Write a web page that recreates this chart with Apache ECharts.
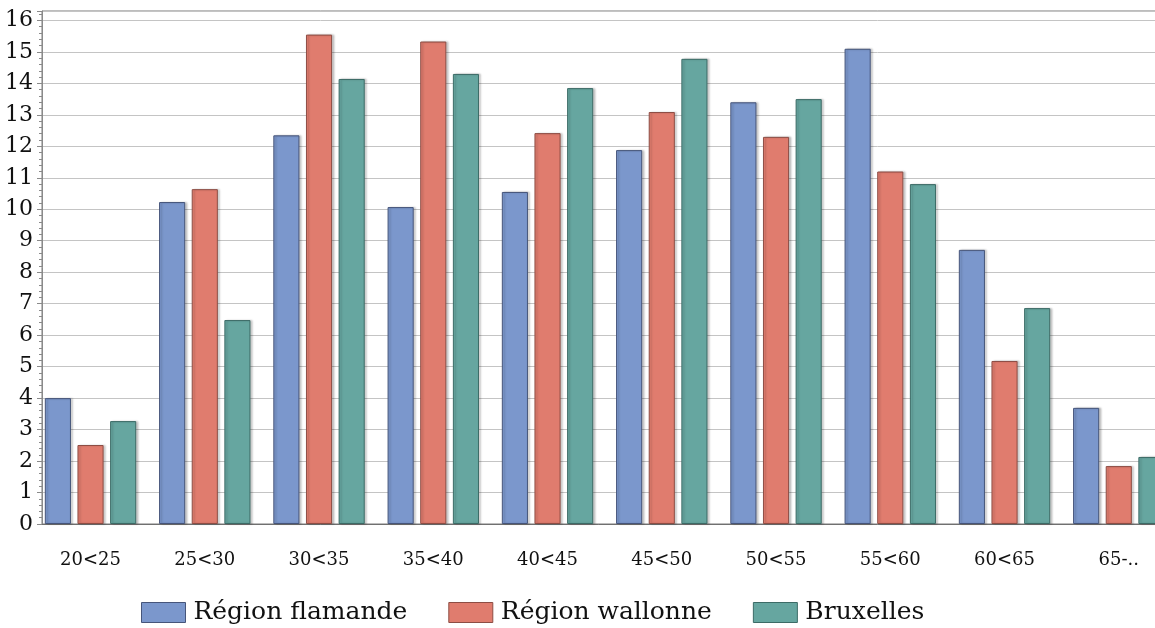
<!DOCTYPE html>
<html>
<head>
<meta charset="utf-8">
<script src="https://cdn.jsdelivr.net/npm/echarts@6/dist/echarts.min.js"></script>
<style>
  html, body { margin: 0; padding: 0; background: #ffffff; }
  #chart { width: 1155px; height: 628px; }
</style>
</head>
<body>
<div id="chart"></div>
<script>
// Age classes and shares (%) per region
const categories = ['20<25', '25<30', '30<35', '35<40', '40<45', '45<50', '50<55', '55<60', '60<65', '65-..'];
const flamande  = [4.0, 10.23, 12.35, 10.07, 10.55, 11.88, 13.40, 15.10, 8.71, 3.69];
const wallonne  = [2.51, 10.64, 15.55, 15.33, 12.42, 13.09, 12.30, 11.20, 5.18, 1.84];
const bruxelles = [3.27, 6.48, 14.14, 14.30, 13.85, 14.78, 13.50, 10.80, 6.86, 2.13];
const seriesNames = ['Région flamande', 'Région wallonne', 'Bruxelles'];

const FONT = 'DejaVu Serif';
const Y_MAX = 16.3;

const chart = echarts.init(document.getElementById('chart'), null, { renderer: 'canvas' });

function barSeries(name, data, color, border) {
  return {
    name: name,
    type: 'bar',
    xAxisIndex: 1,
    yAxisIndex: 1,
    data: data,
    barGap: '25%',
    barCategoryGap: '20%',
    itemStyle: {
      color: color,
      borderColor: border,
      borderWidth: 1,
      shadowColor: 'rgba(0,0,0,0.2)',
      shadowBlur: 2,
      shadowOffsetX: 2,
      shadowOffsetY: 0
    },
    emphasis: { disabled: true }
  };
}

chart.setOption({
  animation: false,
  backgroundColor: '#ffffff',
  grid: [
    // frame, value axis and gridlines (runs past the right edge)
    { left: 42, top: 11, bottom: 104, width: 1200, outerBoundsMode: 'none', containLabel: false,
      show: true, borderColor: '#7a7a7a', borderWidth: 1, backgroundColor: 'transparent' },
    // bar groups
    { left: 33.4, top: 11, bottom: 104, width: 1142.5, outerBoundsMode: 'none', containLabel: false }
  ],
  xAxis: [
    {
      gridIndex: 0,
      type: 'category',
      data: categories,
      axisLine: { show: true, lineStyle: { color: '#707070', width: 1 } },
      axisTick: { show: false },
      axisLabel: { show: false },
      splitLine: { show: false }
    },
    {
      gridIndex: 1,
      type: 'category',
      data: categories,
      axisLine: { show: false },
      axisTick: { show: false },
      axisLabel: { fontFamily: FONT, fontSize: 18, color: '#111111', margin: 27, interval: 0 },
      splitLine: { show: false }
    }
  ],
  yAxis: [
    {
      gridIndex: 0,
      type: 'value',
      min: 0,
      max: Y_MAX,
      interval: 1,
      axisLine: { show: true, lineStyle: { color: '#8a8a8a', width: 1 } },
      axisTick: { show: true, length: 5, lineStyle: { color: '#8a8a8a' } },
      minorTick: { show: true, splitNumber: 5, length: 3, lineStyle: { color: '#8a8a8a' } },
      axisLabel: {
        fontFamily: FONT, fontSize: 22, color: '#111111', margin: 9,
        showMaxLabel: false,
        formatter: function (v) { return Number.isInteger(v) ? String(v) : ''; }
      },
      splitLine: { show: true, lineStyle: { color: '#c4c4c4', width: 1 } }
    },
    {
      gridIndex: 1,
      type: 'value',
      min: 0,
      max: Y_MAX,
      show: false
    }
  ],
  legend: {
    left: 136,
    top: 595,
    itemWidth: 44,
    itemHeight: 20,
    itemGap: 41,
    icon: 'rect',
    itemStyle: { borderWidth: 1 },
    textStyle: { fontFamily: FONT, fontSize: 25, color: '#111111', padding: [0, 0, 0, 3] },
    data: seriesNames
  },
  series: [
    barSeries(seriesNames[0], flamande, '#7b97cc', '#46557a'),
    barSeries(seriesNames[1], wallonne, '#e07c6e', '#8d4d44'),
    barSeries(seriesNames[2], bruxelles, '#66a6a0', '#3c6b66')
  ]
});
</script>
</body>
</html>
